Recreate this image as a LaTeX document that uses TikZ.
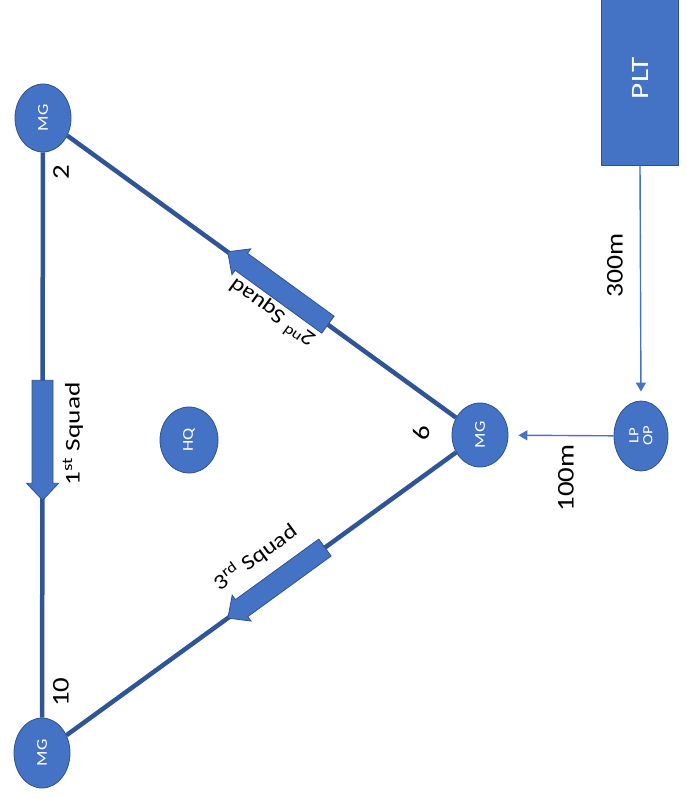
\documentclass[tikz,border=0pt]{standalone}
\usepackage{fontspec}
\usepackage{graphicx}
\setmainfont{Carlito}
\usetikzlibrary{shapes.geometric,arrows.meta,calc,backgrounds}
\definecolor{blu}{HTML}{4472C4}
\definecolor{blud}{HTML}{2F528F}
\definecolor{linec}{HTML}{2F5597}
\newcommand\stretchtxt[2][1.2]{\scalebox{#1}[1]{#2}}
\begin{document}
\begin{tikzpicture}[x=1pt,y=-1pt,
  oval/.style={ellipse, fill=blu, draw=blud, line width=0.8pt, minimum width=68pt,
    minimum height=56pt, inner sep=0pt, rotate=90, text=white,
    font=\fontsize{15}{13}\selectfont, align=center},
  pltbox/.style={rectangle, fill=blu, draw=blud, line width=0.8pt, minimum width=175pt,
    minimum height=77pt, inner sep=0pt, rotate=90, text=white, font=\fontsize{25}{26}\selectfont},
  sideline/.style={draw=linec, line width=4.5pt},
  thinarrow/.style={draw=blu, line width=1.4pt, -{Triangle[length=9pt,width=10pt]}},
  num/.style={rotate=90, font=\fontsize{24}{24}\selectfont, inner sep=0pt},
  lbl/.style={font=\fontsize{21}{22}\selectfont, inner sep=0pt},
  dist/.style={rotate=90, font=\fontsize{24}{26}\selectfont, inner sep=0pt},
  blockarrow/.pic={\filldraw[fill=blu, draw=blud, line width=0.8pt]
    (0,-10.5)--(#1-17,-10.5)--(#1-17,-16)--(#1,0)--(#1-17,16)--(#1-17,10.5)--(0,10.5)--cycle;}
]
\useasboundingbox (0,0) rectangle (686,799);
\clip (0,0) rectangle (686,799);

\node[oval] (mgT) at (43,118) {\stretchtxt{MG}};
\node[oval, minimum width=70pt] (mgB) at (42,753) {\stretchtxt{MG}};
\node[oval, minimum width=64pt] (mgM) at (480,435) {\stretchtxt{MG}};
\node[oval, minimum width=66pt, minimum height=58pt] (hq) at (189,440) {\stretchtxt{HQ}};
\node[oval, minimum width=70pt, minimum height=54pt, font=\fontsize{14}{14}\selectfont] (lpop) at (641,436) {\stretchtxt{LP}\\\stretchtxt{OP}};
\node[pltbox] (plt) at (640,78) {\stretchtxt[1.25]{PLT}};

\begin{scope}[on background layer]
\draw[sideline] (mgT) -- (mgB);
\draw[sideline] (mgT) -- (mgM);
\draw[sideline] (mgM) -- (mgB);
\end{scope}

\pic[rotate=-90] at ($(mgT)!0.413!(mgB)$) {blockarrow=120};
\pic[rotate=144] at ($(mgT)!0.652!(mgM)$) {blockarrow=124};
\pic[rotate=-144] at ($(mgM)!0.354!(mgB)$) {blockarrow=120};

\draw[thinarrow, shorten >=9pt] (plt.west) -- (lpop.east);
\draw[thinarrow, shorten >=10pt] (lpop) -- (mgM);

\node[num] (n2) at (61,172) {\stretchtxt{2}};
\node[num] (n10) at (61,692) {\stretchtxt{10}};
\node[num] (n6) at (421,433) {\stretchtxt{6}};
\node[lbl, rotate=90] (s1) at (73,434) {\stretchtxt[1.3]{1\textsuperscript{st} Squad}};
\node[lbl, rotate=144] (s2) at (272,313) {\stretchtxt[1.2]{2\textsuperscript{nd} Squad}};
\node[lbl, rotate=36] (s3) at (255,557) {\stretchtxt[1.2]{3\textsuperscript{rd} Squad}};
\node[dist] (d300) at (615,265) {\stretchtxt[1.15]{300m}};
\node[dist] (d100) at (566,478) {\stretchtxt[1.2]{100m}};
\end{tikzpicture}
\end{document}
